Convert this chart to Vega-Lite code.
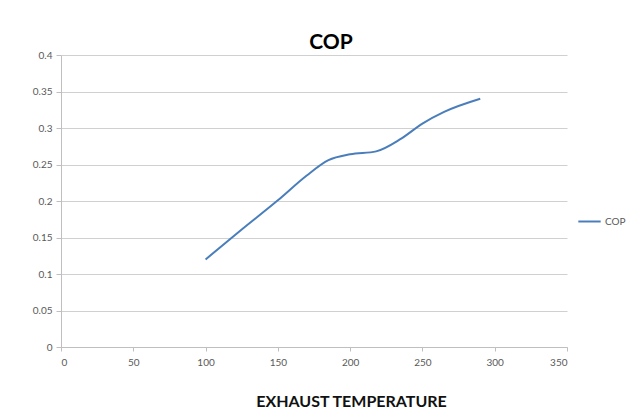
{
  "$schema": "https://vega.github.io/schema/vega-lite/v6.json",
  "width": 506,
  "height": 292,
  "autosize": {"type": "none"},
  "padding": {"left": 61, "top": 55, "right": 76, "bottom": 63},
  "background": "white",
  "title": {
    "text": "COP",
    "font": "Lato",
    "fontSize": 21,
    "fontWeight": "bold",
    "color": "#000000",
    "anchor": "middle",
    "dx": 17,
    "offset": -3
  },
  "data": {
    "values": [
      {"temp": 100, "cop": 0.12, "series": "COP"},
      {"temp": 125, "cop": 0.161, "series": "COP"},
      {"temp": 150, "cop": 0.201, "series": "COP"},
      {"temp": 170, "cop": 0.235, "series": "COP"},
      {"temp": 185, "cop": 0.256, "series": "COP"},
      {"temp": 200, "cop": 0.264, "series": "COP"},
      {"temp": 218, "cop": 0.268, "series": "COP"},
      {"temp": 235, "cop": 0.285, "series": "COP"},
      {"temp": 250, "cop": 0.306, "series": "COP"},
      {"temp": 265, "cop": 0.322, "series": "COP"},
      {"temp": 290, "cop": 0.34, "series": "COP"}
    ]
  },
  "mark": {"type": "line", "interpolate": "monotone", "strokeWidth": 2},
  "encoding": {
    "x": {
      "field": "temp",
      "type": "quantitative",
      "scale": {"domain": [0, 350], "nice": false},
      "axis": {
        "values": [0, 50, 100, 150, 200, 250, 300, 350],
        "title": "EXHAUST TEMPERATURE",
        "titleFont": "Lato",
        "titleFontSize": 16,
        "titleFontWeight": "bold",
        "titleColor": "#111111",
        "titleX": 290,
        "titleY": 59,
        "titleBaseline": "alphabetic",
        "labelFont": "Lato",
        "labelFontSize": 10,
        "labelColor": "#595959",
        "labelPadding": 6,
        "tickSize": 4,
        "tickColor": "#bfbfbf",
        "domainColor": "#bfbfbf",
        "grid": false
      }
    },
    "y": {
      "field": "cop",
      "type": "quantitative",
      "scale": {"domain": [0, 0.4], "nice": false},
      "axis": {
        "values": [0, 0.05, 0.1, 0.15, 0.2, 0.25, 0.3, 0.35, 0.4],
        "format": ".2~f",
        "title": null,
        "labelFont": "Lato",
        "labelFontSize": 10,
        "labelColor": "#595959",
        "labelPadding": 4,
        "tickSize": 5,
        "tickColor": "#bfbfbf",
        "domainColor": "#bfbfbf",
        "grid": true,
        "gridColor": "#d0d0d0",
        "gridWidth": 1.2
      }
    },
    "color": {
      "field": "series",
      "type": "nominal",
      "scale": {"range": ["#4A7EBB"]},
      "legend": {
        "title": null,
        "orient": "none",
        "legendX": 516,
        "legendY": 154,
        "symbolType": "stroke",
        "symbolSize": 500,
        "symbolStrokeWidth": 2,
        "labelFont": "Lato",
        "labelFontSize": 10,
        "labelColor": "#595959",
        "labelOffset": 3
      }
    }
  },
  "config": {"view": {"stroke": null}}
}
